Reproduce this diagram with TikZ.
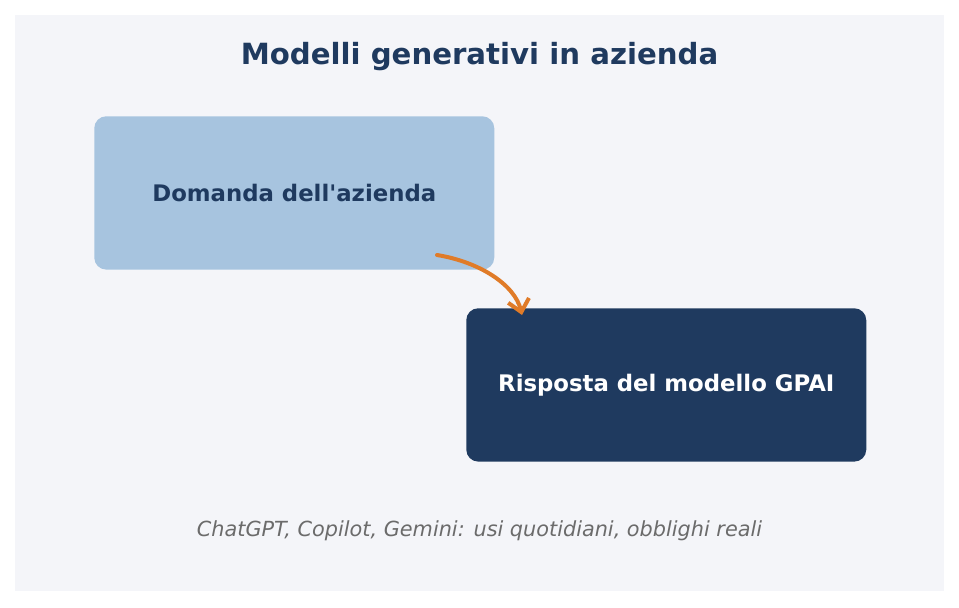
\documentclass[tikz,border=0pt]{standalone}
\usepackage{fontspec}
\setmainfont{DejaVu Sans}
\usetikzlibrary{arrows.meta}
\definecolor{bgpanel}{HTML}{F4F5F9}
\definecolor{navy}{HTML}{1F3A5F}
\definecolor{lightblue}{HTML}{A7C4DF}
\definecolor{orangeA}{HTML}{E07B28}
\definecolor{capgray}{HTML}{6B6B6B}
\tikzset{
  box/.style={rounded corners=9pt, minimum width=300pt, minimum height=115pt, inner sep=0pt},
  boxlight/.style={box, fill=lightblue, text=navy, font=\fontsize{17.1}{20}\selectfont\bfseries},
  boxdark/.style={box, fill=navy, text=white, font=\fontsize{17.1}{20}\selectfont\bfseries},
  flow/.style={draw=orangeA, line width=3pt, line cap=round, -{Straight Barb[length=9pt,width=16pt,line width=3pt]}},
}
\begin{document}
\begin{tikzpicture}[x=0.75pt,y=-0.75pt]
\useasboundingbox (0,0) rectangle (959,607);
\fill[white] (0,0) rectangle (959,607);
\fill[bgpanel] (15,15) rectangle (944,591);
\node[text=navy, font=\fontsize{21.9}{26}\selectfont\bfseries] (title) at (479.5,57) {Modelli generativi in azienda};
\node[boxlight, anchor=north west] (q) at (94,116) {Domanda dell\textquotesingle azienda};
\node[boxdark, anchor=north west] (r) at (466,308) {Risposta del modello GPAI};
\coordinate (s) at (437,255);
\coordinate (e) at (522,315);
\draw[flow] (s) .. controls (480,262) and (515,285) .. (e);
\node[text=capgray, font=\fontsize{15.6}{18}\selectfont\itshape] (cap) at (479.5,531) {ChatGPT, Copilot, Gemini: usi quotidiani, obblighi reali};
\end{tikzpicture}
\end{document}
